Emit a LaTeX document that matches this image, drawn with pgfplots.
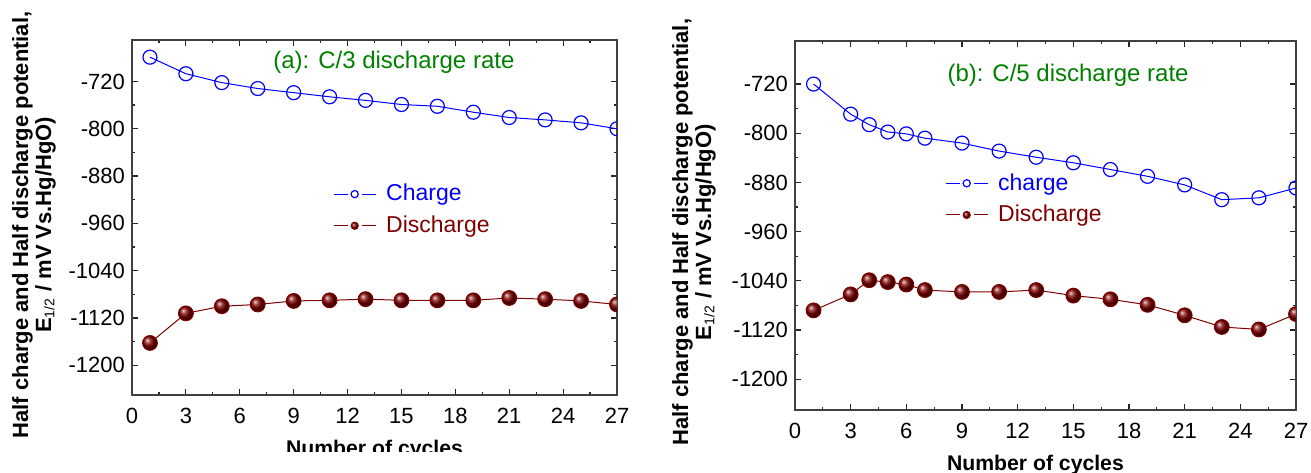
\documentclass[border=0pt]{standalone}
\usepackage{fontspec}
\setmainfont{Liberation Sans}
\usepackage{pgfplots}
\pgfplotsset{compat=1.18}
\definecolor{cblue}{RGB}{0,0,255}
\definecolor{dred}{RGB}{128,0,0}
\definecolor{tgreen}{RGB}{0,128,0}

\pgfplotstableread{
x y
1 -679
3 -707
5 -722
7 -732
9 -739
11 -746
13 -752
15 -759
17 -762
19 -772
21 -781
23 -785
25 -790
27 -800
}\chargeA
\pgfplotstableread{
x y
1 -1162
3 -1112
5 -1100
7 -1097
9 -1091
11 -1090
13 -1088
15 -1090
17 -1090
19 -1090
21 -1086
23 -1088
25 -1091
27 -1097
}\dischargeA
\pgfplotstableread{
x y
1 -720
3 -769
4 -786
5 -798
6 -801
7 -808
9 -816
11 -829
13 -839
15 -848
17 -859
19 -870
21 -884
23 -908
25 -905
27 -889
}\chargeB
\pgfplotstableread{
x y
1 -1088
3 -1062
4 -1039
5 -1042
6 -1046
7 -1055
9 -1058
11 -1058
13 -1055
15 -1064
17 -1070
19 -1079
21 -1096
23 -1115
25 -1119
27 -1094
}\dischargeB

\pgfplotsset{
  myaxis/.style={
    scale only axis,
    xmin=0, xmax=27, ymin=-1250, ymax=-650,
    xtick={0,3,...,27},
    ytick={-1200,-1120,-1040,-960,-880,-800,-720},
    yticklabels={-1200,-1120,-1040,-960,-880,-800,-720},
    minor x tick num=1, minor y tick num=1,
    tick align=inside, tick pos=both,
    major tick length=3pt, minor tick length=1.6pt,
    every tick/.style={black!85, line width=0.6pt},
    axis line style={black!75, line width=0.75pt},
    tick label style={font=\fontsize{11}{13}\selectfont},
    /pgf/number format/assume math mode=true,
    /pgf/number format/1000 sep={},
    xticklabel style={yshift=-3pt},
    clip marker paths=true,
    legend cell align=left,
    legend style={draw=none, fill=none, inner sep=0pt,
      font=\fontsize{11.5}{13}\selectfont, row sep=2pt,
      /tikz/every odd column/.append style={column sep=3pt}},
    legend image code/.code={%
      \draw[##1, mark=none] (0pt,0pt) -- (7pt,0pt);
      \draw[##1, mark=none] (14pt,0pt) -- (21pt,0pt);
      \draw[##1, mark size=1.8pt] plot coordinates {(10.5pt,0pt)};},
    every axis y label/.style={rotate=90, anchor=center, align=center,
      font=\bfseries\fontsize{11}{11.5}\selectfont},
    every axis x label/.style={anchor=base,
      font=\bfseries\fontsize{10.6}{12}\selectfont},
    ylabel={Half charge and Half discharge potential,\\E\textsubscript{\normalfont\fontsize{7}{7}\selectfont 1/2} / mV Vs.Hg/HgO)},
    xlabel={Number of cycles},
  },
  chg/.style={color=cblue, line width=0.5pt, mark=o, mark size=3.5pt,
    mark options={solid, fill=white, line width=0.6pt}},
  dis/.style={color=dred, line width=0.5pt, mark=ball, mark size=3.7pt,
    mark options={ball color=dred}},
}

\begin{document}
\begin{tikzpicture}
\useasboundingbox (0,0) rectangle (655.5pt,236pt);
\begin{axis}[myaxis, at={(66pt,38.5pt)}, anchor=south west,
  width=242.5pt, height=177.5pt,
  ylabel style={at={(axis description cs:-0.202,0.479)}},
  xlabel style={at={(axis description cs:0.5,0)}, yshift=-30pt},
  legend style={at={(axis description cs:0.414,0.606)}, anchor=north west},
  ]
\addplot[chg] table {\chargeA};
\addlegendentry{\textcolor{cblue}{Charge}}
\addplot[dis] table {\dischargeA};
\addlegendentry{\textcolor{dred}{Discharge}}
\node[font=\fontsize{12}{14}\selectfont, text=tgreen] at (axis description cs:0.54,0.938) {(a): C/3 discharge rate};
\end{axis}
\fill[white] (0,0) rectangle (327pt,10pt);
\begin{axis}[myaxis, at={(397.5pt,31pt)}, anchor=south west,
  width=250.5pt, height=184.5pt,
  ylabel style={at={(axis description cs:-0.2016,0.482)}},
  xlabel style={at={(axis description cs:0.48,0)}, yshift=-30pt},
  legend style={at={(axis description cs:0.299,0.653)}, anchor=north west},
  ]
\addplot[chg] table {\chargeB};
\addlegendentry{\textcolor{cblue}{charge}}
\addplot[dis] table {\dischargeB};
\addlegendentry{\textcolor{dred}{Discharge}}
\node[font=\fontsize{12}{14}\selectfont, text=tgreen] at (axis description cs:0.545,0.908) {(b): C/5 discharge rate};
\end{axis}
\end{tikzpicture}
\end{document}
